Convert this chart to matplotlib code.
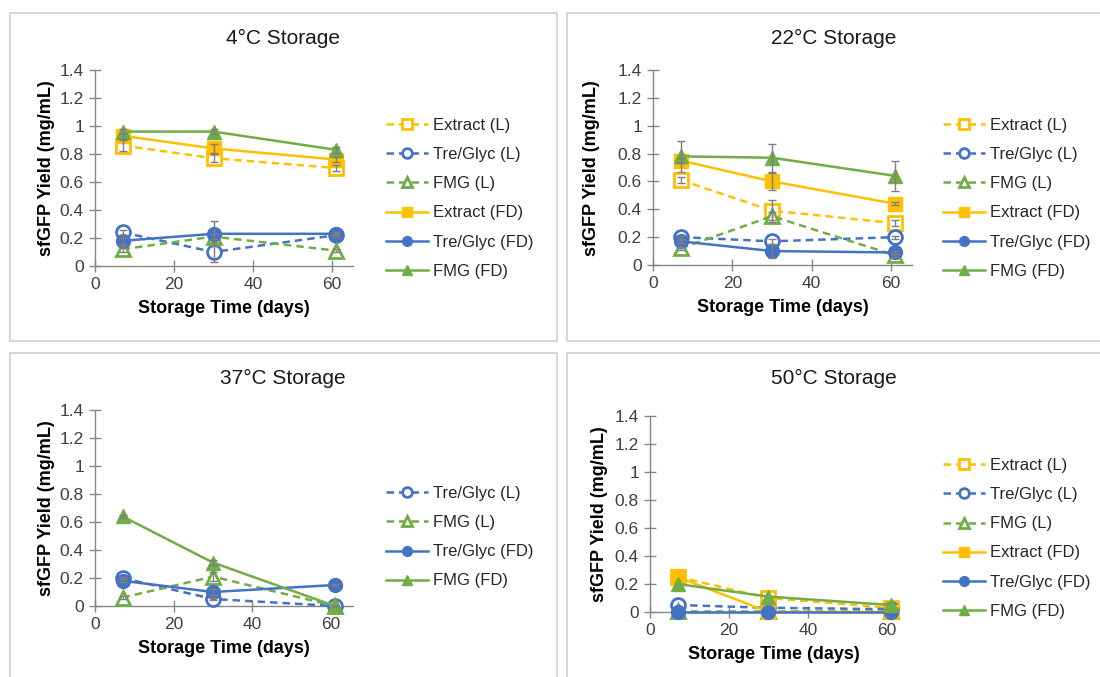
import matplotlib
matplotlib.use("Agg")
import matplotlib.pyplot as plt
from matplotlib.patches import Rectangle
from matplotlib.ticker import FuncFormatter

plt.rcParams['font.family'] = ['Liberation Sans', 'DejaVu Sans']

# storage days
DAYS = [7, 30, 61]
SERIES = ['Extract (L)', 'Tre/Glyc (L)', 'FMG (L)',
          'Extract (FD)', 'Tre/Glyc (FD)', 'FMG (FD)']

# sfGFP yield (mg/mL), one row per series; None = not measured
YIELD_4C = [[0.86, 0.77, 0.70],
            [0.24, 0.10, 0.22],
            [0.12, 0.21, 0.11],
            [0.93, 0.84, 0.76],
            [0.18, 0.23, 0.23],
            [0.96, 0.96, 0.83]]
ERR_4C = [[0.04, 0.03, 0.02],
          [0.02, 0.07, 0.01],
          [0.02, 0.02, 0.01],
          [0.02, 0.03, 0.02],
          [0.02, 0.09, 0.01],
          [0.02, 0.02, 0.02]]

YIELD_22C = [[0.61, 0.39, 0.30],
             [0.20, 0.17, 0.20],
             [0.12, 0.35, 0.07],
             [0.75, 0.60, 0.44],
             [0.17, 0.10, 0.09],
             [0.78, 0.77, 0.64]]
ERR_22C = [[0.02, 0.08, 0.02],
           [0.01, 0.02, 0.01],
           [0.01, 0.03, 0.01],
           [0.02, 0.06, 0.01],
           [0.01, 0.05, 0.01],
           [0.11, 0.10, 0.11]]

YIELD_37C = [None,
             [0.20, 0.05, 0.00],
             [0.06, 0.21, 0.00],
             None,
             [0.18, 0.10, 0.15],
             [0.64, 0.31, 0.00]]
ERR_37C = [None,
           [0.01, 0.01, 0.00],
           [0.01, 0.03, 0.00],
           None,
           [0.01, 0.02, 0.01],
           [0.01, 0.02, 0.00]]

YIELD_50C = [[0.25, 0.10, 0.03],
             [0.05, 0.03, 0.02],
             [0.01, 0.01, 0.01],
             [0.25, 0.00, 0.00],
             [0.00, 0.00, 0.00],
             [0.20, 0.11, 0.05]]

TITLES = ['4°C Storage', '22°C Storage', '37°C Storage', '50°C Storage']

YELLOW, BLUE, GREEN = '#FFC000', '#4472C4', '#70AD47'
STYLES = [(YELLOW, 's', '--', True), (BLUE, 'o', '--', True), (GREEN, '^', '--', True),
          (YELLOW, 's', '-', False), (BLUE, 'o', '-', False), (GREEN, '^', '-', False)]

W, H = 1100, 677
fig = plt.figure(figsize=(W / 100, H / 100), dpi=100)


def fx(x):
    return x / W


def fy(y):
    return 1 - y / H


# panel frames (pixels: left, top, right, bottom)
for l, t, r, b in [(10, 13, 557, 341), (567, 13, 1104, 341),
                   (10, 353, 557, 682), (567, 353, 1104, 682)]:
    fig.patches.append(Rectangle((fx(l), fy(b)), fx(r - l), fy(t) - fy(b),
                                 transform=fig.transFigure, fill=False,
                                 edgecolor='#d0d0d0', linewidth=1.2))

panels = [
    dict(data=YIELD_4C, err=ERR_4C, box=(95, 70, 353, 266), xmax=65.3,
         title=(283, 38), ylab=(47, 168), leg=(386, 118)),
    dict(data=YIELD_22C, err=ERR_22C, box=(653, 70, 912, 265), xmax=65.3,
         title=(834, 38), ylab=(592, 168), leg=(943, 118)),
    dict(data=YIELD_37C, err=ERR_37C, box=(95, 410, 353, 606), xmax=65.6,
         title=(283, 378), ylab=(47, 508), leg=(386, 486)),
    dict(data=YIELD_50C, err=None, box=(650, 416, 898, 612), xmax=62.8,
         title=(834, 378), ylab=(600, 514), leg=(943, 458)),
]

for p, title in zip(panels, TITLES):
    l, t, r, b = p['box']
    ax = fig.add_axes([fx(l), fy(b), fx(r - l), fy(t) - fy(b)])
    handles = []
    for i, (name, vals) in enumerate(zip(SERIES, p['data'])):
        if vals is None:
            continue
        color, marker, ls, hollow = STYLES[i]
        h, = ax.plot(DAYS, vals, linestyle=ls, color=color, linewidth=1.8,
                     marker=marker, markersize=10,
                     markerfacecolor='white' if hollow else color,
                     markeredgecolor=color, markeredgewidth=2 if hollow else 1,
                     dashes=(3, 2) if ls == '--' else (None, None),
                     label=name, zorder=3 + i, clip_on=False)
        handles.append(h)
        if p['err'] is not None and p['err'][i] is not None:
            ax.errorbar(DAYS, vals, yerr=p['err'][i], fmt='none',
                        ecolor='#7f7f7f', elinewidth=1, capsize=3,
                        capthick=1, zorder=10 + i, clip_on=False)

    ax.set_xlim(0, p['xmax'])
    ax.set_ylim(0, 1.4)
    ax.set_xticks([0, 20, 40, 60])
    ax.set_yticks([0, 0.2, 0.4, 0.6, 0.8, 1.0, 1.2, 1.4])
    ax.yaxis.set_major_formatter(FuncFormatter(lambda v, pos: f'{v:g}'))
    for s in ['top', 'right']:
        ax.spines[s].set_visible(False)
    for s in ['left', 'bottom']:
        ax.spines[s].set_color('#868686')
        ax.spines[s].set_linewidth(1)
    ax.tick_params(direction='inout', length=8, width=1, color='#868686',
                   labelsize=12.5, labelcolor='#404040', pad=4)
    ax.set_xlabel('Storage Time (days)', fontsize=13, fontweight='bold',
                  color='#000000', labelpad=6)

    fig.text(fx(p['ylab'][0]), fy(p['ylab'][1]), 'sfGFP Yield (mg/mL)',
             rotation=90, ha='center', va='center', fontsize=13,
             fontweight='bold')
    fig.text(fx(p['title'][0]), fy(p['title'][1]), title, ha='center',
             va='center', fontsize=15, color='#1a1a1a')

    leg = fig.legend(handles=handles, loc='upper left',
                     bbox_to_anchor=(fx(p['leg'][0]), fy(p['leg'][1])),
                     frameon=False, fontsize=12, handlelength=2.5,
                     handletextpad=0.3, labelspacing=0.85, markerscale=0.7,
                     borderaxespad=0, borderpad=0)
    for txt in leg.get_texts():
        txt.set_color('#262626')

fig.savefig('out.png', dpi=100)
